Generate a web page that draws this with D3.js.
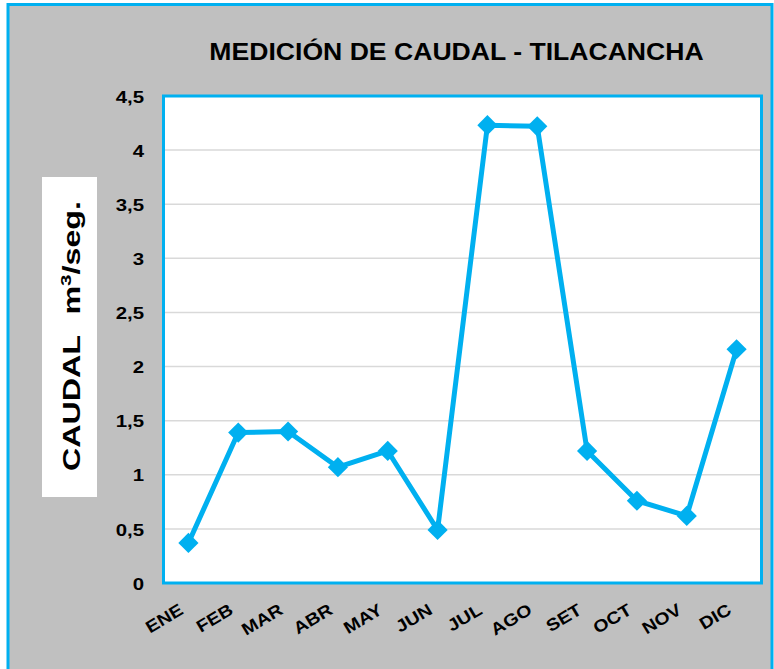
<!DOCTYPE html>
<html><head><meta charset="utf-8">
<script src="https://cdn.jsdelivr.net/npm/d3@7"></script>
<style>body{margin:0;background:#fff}svg{display:block}text{font-family:"Liberation Sans",Arial,sans-serif;font-weight:bold;fill:#000}</style>
</head><body>
<script>
const months = ["ENE","FEB","MAR","ABR","MAY","JUN","JUL","AGO","SET","OCT","NOV","DIC"];
const caudal = [0.37,1.39,1.40,1.07,1.22,0.49,4.23,4.22,1.22,0.76,0.62,2.16];
const yTicks = [0,0.5,1,1.5,2,2.5,3,3.5,4,4.5];
const title = "MEDICIÓN DE CAUDAL - TILACANCHA";

const W=774,H=669, blue="#00b0f0";
const svg=d3.select("body").append("svg").attr("width",W).attr("height",H);
svg.append("rect").attr("x",0).attr("y",0).attr("width",W).attr("height",H).attr("fill","#fff");
svg.append("rect").attr("x",8).attr("y",4.5).attr("width",764).attr("height",670).attr("fill","#c0c0c0").attr("stroke",blue).attr("stroke-width",3);

const L=163.5,R=761.5,T=96,B=583;
const x=d3.scalePoint().domain(months).range([L,R]).padding(0.5);
const y=d3.scaleLinear().domain([0,4.5]).range([B,T]);

svg.append("rect").attr("x",L).attr("y",T).attr("width",R-L).attr("height",B-T).attr("fill","#fff");
svg.append("g").selectAll("line").data(yTicks.filter(d=>d>0&&d<4.5)).join("line")
 .attr("x1",L).attr("x2",R).attr("y1",d=>y(d)).attr("y2",d=>y(d)).attr("stroke","#d9d9d9").attr("stroke-width",1.5);
svg.append("rect").attr("x",L).attr("y",T).attr("width",R-L).attr("height",B-T).attr("fill","none").attr("stroke",blue).attr("stroke-width",3);

svg.append("text").attr("transform","translate(456.5,59.5) scale(1.077,1)").attr("text-anchor","middle").attr("font-size",24.7).text(title);

// y axis labels
const fmt=d=>String(d).replace(".",",");
svg.append("g").selectAll("text").data(yTicks).join("text")
 .attr("transform",d=>`translate(144,${y(d)+6.7}) scale(1.2,1)`).attr("text-anchor","end").attr("font-size",17).text(fmt);

// y title box
svg.append("rect").attr("x",42).attr("y",177).attr("width",55).attr("height",320).attr("fill","#fff");
const yt=svg.append("text").attr("transform","translate(80,336) rotate(-90) scale(1.37,1)").attr("text-anchor","middle").attr("font-size",23.5);
yt.append("tspan").text("CAUDAL");
yt.append("tspan").attr("dx",15).text("m");
yt.append("tspan").attr("font-size",15).attr("dy",-9).text("3");
yt.append("tspan").attr("dy",9).text("/seg.");

// x labels
svg.append("g").selectAll("text").data(months).join("text")
 .attr("transform",d=>`translate(${x(d)-4},613) rotate(-31) scale(1.15,1)`).attr("text-anchor","end").attr("font-size",17).text(d=>d);

// line
svg.append("path").datum(caudal).attr("fill","none").attr("stroke",blue).attr("stroke-width",5).attr("stroke-linejoin","round")
 .attr("d",d3.line().x((d,i)=>x(months[i])).y(d=>y(d)));
svg.append("g").selectAll("path").data(caudal).join("path")
 .attr("transform",(d,i)=>`translate(${x(months[i])},${y(d)})`)
 .attr("d",d3.symbol().type(d3.symbolDiamond2).size(260)).attr("fill",blue);
</script>
</body></html>
